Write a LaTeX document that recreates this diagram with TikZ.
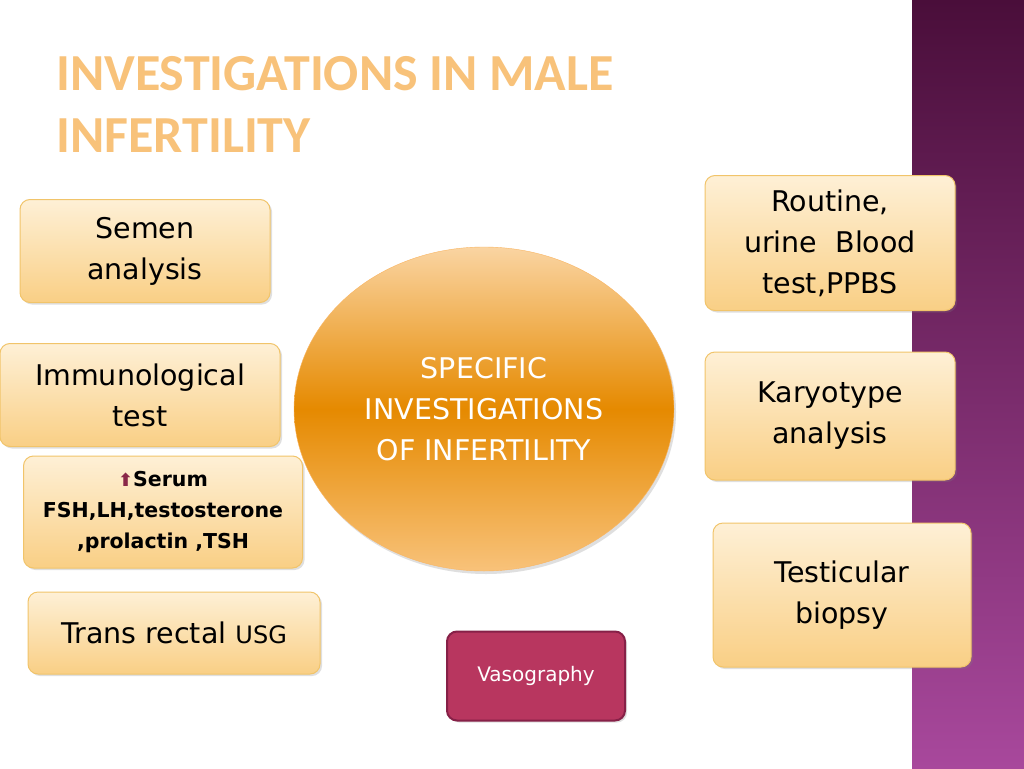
\documentclass[tikz,border=0pt]{standalone}
\usepackage{fontspec}
\setmainfont{DejaVu Sans}
\newfontfamily\crl{Carlito}
\usetikzlibrary{shadows}
\definecolor{boxtop}{HTML}{FEF0D6}
\definecolor{boxbot}{HTML}{F9CF85}
\definecolor{boxline}{HTML}{F1C46A}
\definecolor{ttl}{HTML}{F8C27A}
\definecolor{ptop}{HTML}{4A0E3A}
\definecolor{pbot}{HTML}{A8489C}
\definecolor{vaso}{HTML}{B8365F}
\definecolor{vasoline}{HTML}{862047}
\definecolor{arr}{HTML}{8A2848}
\begin{document}
\begin{tikzpicture}[x=1pt,y=-1pt,
  box/.style={draw=boxline, line width=1pt, rounded corners=10pt, top color=boxtop, bottom color=boxbot, drop shadow={opacity=0.25, shadow xshift=2pt, shadow yshift=-2pt}, align=center, font=\fontsize{28.5}{41}\selectfont, inner sep=0pt}]
\useasboundingbox (0,0) rectangle (1024,768);
\fill[white] (0,0) rectangle (1024,768);
\shade[top color=ptop, bottom color=pbot] (912,0) rectangle (1024,768);
\node[anchor=north west, text=ttl, align=left, font=\crl\bfseries\fontsize{52}{62}\selectfont, inner sep=0pt] (title) at (56,56) {INVESTIGATIONS IN MALE\\INFERTILITY};
\node[box, minimum width=250pt, minimum height=103pt] (semen) at (145,251) {Semen\\analysis};
\node[box, minimum width=280pt, minimum height=103pt] (immu) at (140,395) {Immunological\\test};
\node[box, minimum width=279pt, minimum height=112pt, font=\fontsize{20.5}{31}\selectfont\bfseries] (serum) at (163,512) {{\color{arr}\fontsize{18}{18}\selectfont ⬆}Serum\\FSH,LH,testosterone\\,prolactin ,TSH};
\node[box, minimum width=292pt, minimum height=82pt] (usg) at (174,633) {Trans rectal {\fontsize{24}{24}\selectfont USG}};
\node[box, minimum width=250pt, minimum height=135pt] (routine) at (830,243) {Routine,\\urine\ \ Blood\\test,PPBS};
\node[box, minimum width=250pt, minimum height=128pt] (karyo) at (830,416) {Karyotype\\analysis};
\node[box, minimum width=258pt, minimum height=144pt] (testi) at (842,595) {Testicular\\biopsy};
\node[draw=vasoline, line width=2pt, rounded corners=10pt, fill=vaso, text=white, minimum width=178pt, minimum height=89pt, font=\fontsize{20}{26}\selectfont, inner sep=0pt, drop shadow={opacity=0.25, shadow xshift=2pt, shadow yshift=-2pt}] (vaso) at (536,676) {Vasography};
\shade[drop shadow={opacity=0.25, shadow xshift=2pt, shadow yshift=-3pt}, top color=ttl!70!white, bottom color=ttl, middle color=orange!80!yellow!90!black, draw=ttl!80!orange] (484,409) ellipse [x radius=190, y radius=162];
\node[text=white, align=center, font=\fontsize{28.5}{41}\selectfont] (center) at (484,409) {SPECIFIC\\INVESTIGATIONS\\OF INFERTILITY};
\end{tikzpicture}
\end{document}
